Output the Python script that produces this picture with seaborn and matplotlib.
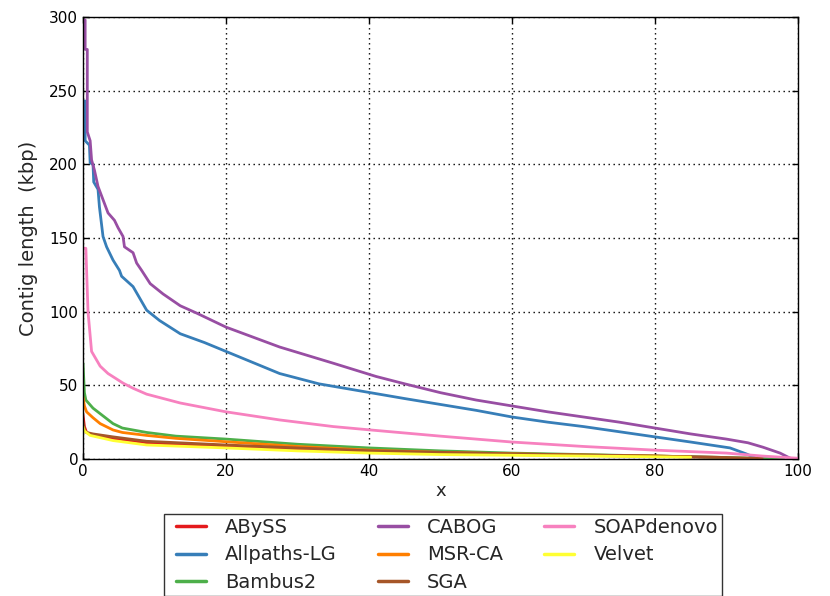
import matplotlib
matplotlib.use("Agg")
import matplotlib.pyplot as plt
from matplotlib.lines import Line2D
from matplotlib.legend_handler import HandlerLine2D
import seaborn as sns
import pandas as pd

# ---- data ----
names = ["ABySS", "Allpaths-LG", "Bambus2", "CABOG", "MSR-CA", "SGA", "SOAPdenovo", "Velvet"]
colors = ["#e41a1c", "#377eb8", "#4daf4a", "#984ea3", "#ff7f00", "#a65628", "#f781bf", "#ffff33"]

abyss_x = [0, 0.2, 0.5, 1.4, 4.2, 8.9, 20, 40, 60, 80, 90]
abyss_y = [30, 22, 18, 16, 14, 11, 8.5, 5, 3, 1.8, 1]

allpaths_x = [0, 0.3, 0.3, 0.9, 1.0, 1.4, 1.5, 2.1, 2.3, 2.8, 3.3, 4.2, 5.1, 5.4, 7.0, 8.9, 10.7,
              13.6, 17, 20, 27.5, 33, 40.2, 45, 50, 55, 60, 65, 70, 75, 80, 85, 90.5, 92.8, 94.4]
allpaths_y = [243, 243, 216, 213, 201, 200, 188, 183, 171, 151, 144, 135, 128, 124, 117, 101, 94,
              85, 79, 73, 58, 51, 45, 41, 37, 33, 28.5, 25, 22, 18.5, 15, 11.5, 7.5, 3.4, 0]

bambus_x = [0, 0.2, 0.4, 1.4, 4.2, 5.5, 8.9, 13, 20, 30, 40, 50, 60, 70, 80, 90, 98]
bambus_y = [65, 45, 40, 34.5, 24, 21, 18, 15.5, 13.5, 10, 7.5, 5.5, 4, 3, 2, 1, 0]

cabog_x = [0, 0.3, 0.3, 0.6, 0.6, 1.0, 1.2, 1.6, 2.1, 2.8, 3.5, 4.4, 4.9, 5.6, 5.8, 7.0, 7.5, 8.2,
           9.4, 11.2, 13.6, 15.9, 20, 27.5, 35, 41, 45, 50, 55, 60, 65, 70, 75, 80, 85, 90, 93,
           95.1, 97.5, 99]
cabog_y = [298, 298, 278, 278, 222, 216, 203, 196, 185, 176, 167, 162, 157, 151, 144, 140, 133, 128,
           119, 112, 104, 99, 89.5, 76, 65, 56, 51, 45, 40, 36, 32, 28.5, 25, 21, 17, 13.5, 11,
           8, 4, 0.3]

msrca_x = [0, 0.2, 0.5, 1.4, 2.4, 4.2, 5.5, 8.9, 13, 20, 30, 40, 50, 60, 70, 80, 85]
msrca_y = [42, 36, 32, 28, 24, 19.7, 18, 16, 14, 11.7, 8.5, 6, 4.5, 3.5, 2.7, 2, 1.5]

sga_x = [0, 0.2, 0.5, 1.4, 4.2, 8.9, 20, 30, 40, 50, 60, 70, 80, 90, 95]
sga_y = [25, 20, 18, 17, 15, 12, 9.5, 7.5, 5.6, 4.5, 3.5, 2.7, 2, 1, 0.3]

soap_x = [0, 0.4, 0.7, 1.2, 2.4, 3.5, 5.6, 7, 8.9, 13.6, 20, 27.5, 35, 40.2, 50, 60, 70, 80, 90, 95, 100]
soap_y = [143, 143, 100, 73, 63, 58, 51.5, 48, 44, 38, 32, 26.5, 22, 19.7, 15.5, 11.5, 8.5, 6, 4, 2, 0.5]

velvet_x = [0, 0.2, 1.0, 4.2, 8.9, 20, 30, 40, 50, 60, 70, 80, 85]
velvet_y = [22, 19, 16, 12.5, 9.5, 7.5, 5.5, 4, 3, 2.5, 2, 1.5, 1.2]

xs = [abyss_x, allpaths_x, bambus_x, cabog_x, msrca_x, sga_x, soap_x, velvet_x]
ys = [abyss_y, allpaths_y, bambus_y, cabog_y, msrca_y, sga_y, soap_y, velvet_y]

rows = []
for n, xv, yv in zip(names, xs, ys):
    for a, b in zip(xv, yv):
        rows.append({"assembler": n, "x": a, "y": b})
df = pd.DataFrame(rows)

sns.set_style("white")
plt.rcParams.update({
    "font.family": ["DejaVu Sans"],
    "axes.edgecolor": "black",
    "axes.linewidth": 1.0,
    "xtick.direction": "in",
    "ytick.direction": "in",
    "xtick.top": True,
    "ytick.right": True,
    "xtick.bottom": True,
    "ytick.left": True,
    "xtick.major.size": 4.5,
    "ytick.major.size": 4.5,
    "xtick.color": "black",
    "ytick.color": "black",
})

fig = plt.figure(figsize=(8.3, 5.96), dpi=100)
ax = fig.add_axes([0.1, 0.2299, 0.8614, 0.7416])

palette = dict(zip(names, colors))
sns.lineplot(data=df, x="x", y="y", hue="assembler", hue_order=names, palette=palette,
             estimator=None, sort=False, units="assembler", linewidth=2, ax=ax)

ax.set_xlim(0, 100)
ax.set_ylim(0, 300)
ax.set_xticks([0, 20, 40, 60, 80, 100])
ax.set_yticks([0, 50, 100, 150, 200, 250, 300])
ax.tick_params(labelsize=11, width=1)
ax.grid(True, linestyle=(0, (1, 2.6)), color="black", linewidth=1.0)
ax.set_axisbelow(True)
ax.set_xlabel("x", fontsize=13, labelpad=2)
ax.set_ylabel("Contig length  (kbp)", fontsize=14, labelpad=8)

handles, labels = ax.get_legend_handles_labels()
for h in handles:
    h.set_linewidth(2.5)
leg = ax.legend(handles, labels, loc="upper center", bbox_to_anchor=(0.5035, -0.124), ncol=3,
                frameon=True, fancybox=False, edgecolor="black", fontsize=14,
                handlelength=1.94, handletextpad=1.0, columnspacing=1.7,
                borderpad=0.22, labelspacing=0.43, borderaxespad=0,
                handler_map={Line2D: HandlerLine2D(xpad=0.4)})
leg.get_frame().set_linewidth(1.0)

fig.savefig("out.png", dpi=100)
